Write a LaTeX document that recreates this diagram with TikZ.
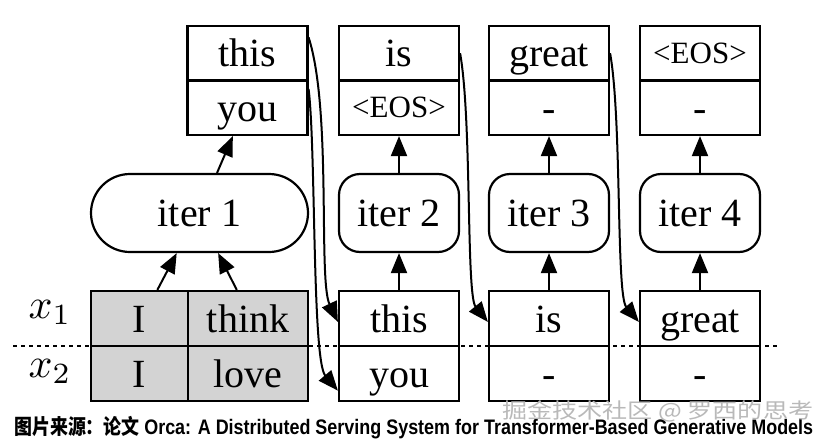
\documentclass[tikz,border=0pt]{standalone}
\usepackage{graphicx}
\usepackage{fontspec}
\setmainfont{Liberation Serif}
\newfontfamily\cjk{Noto Sans CJK SC}
\newfontfamily\arial{Liberation Sans}
\usetikzlibrary{arrows.meta,calc}
\definecolor{cellgray}{HTML}{D3D3D3}
\begin{document}
\begin{tikzpicture}[x=1pt,y=-1pt,
  cell/.style={draw, line width=2.2pt, fill=white, minimum width=120pt, minimum height=55pt, inner sep=0pt,
    font=\fontsize{40}{48}\selectfont, text height=36pt, text depth=9pt},
  topcell/.style={cell, minimum height=54.5pt},
  gcell/.style={cell, fill=cellgray},
  eos/.style={font=\fontsize{31}{36}\selectfont, text height=29pt, text depth=9pt},
  iterbox/.style={draw, line width=2.2pt, fill=white, minimum width=120pt, minimum height=78pt, inner sep=0pt,
    rounded corners=21pt, font=\fontsize{40}{48}\selectfont, text height=36pt, text depth=9pt},
  arr/.style={line width=2pt, -{Triangle[length=20pt,width=16pt]}},
  wm/.style={inner sep=0pt, anchor=base west}
]
\useasboundingbox (0,0) rectangle (828,442);

% dotted separator
\coordinate (dl) at (13,346);
\coordinate (dr) at (777,346);
\draw[line width=1.5pt, dash pattern=on 4pt off 4pt] (dl) -- (dr);

% top output boxes
\node[topcell] (t1a) at (247.5,53.25) {this};
\node[topcell] (t1b) at (247.5,107.75) {you};
\node[topcell] (t2a) at (399,53.25) {is};
\node[topcell, eos] (t2b) at (399,107.75) {\textless EOS\textgreater};
\node[topcell] (t3a) at (549,53.25) {great};
\node[topcell] (t3b) at (549,107.75) {-};
\node[topcell, eos] (t4a) at (700,53.25) {\textless EOS\textgreater};
\node[topcell] (t4b) at (700,107.75) {-};

% iteration boxes
\node[iterbox, minimum width=217pt, rounded corners=39pt] (i1) at (199.5,213) {iter 1};
\node[iterbox] (i2) at (399,213) {iter 2};
\node[iterbox] (i3) at (549,213) {iter 3};
\node[iterbox] (i4) at (700,213) {iter 4};

% bottom input boxes
\node[gcell, minimum width=97pt] (g1) at (139.5,318.5) {I};
\node[gcell] (g2) at (248,318.5) {think};
\node[gcell, minimum width=97pt] (g3) at (139.5,373.5) {I};
\node[gcell] (g4) at (248,373.5) {love};
\node[cell] (b1a) at (399,318.5) {this};
\node[cell] (b1b) at (399,373.5) {you};
\node[cell] (b2a) at (549,318.5) {is};
\node[cell] (b2b) at (549,373.5) {-};
\node[cell] (b3a) at (700,318.5) {great};
\node[cell] (b3b) at (700,373.5) {-};

% row labels
\node[inner sep=0pt, anchor=base] (x1) at (50,318) {\scalebox{4.2}{$x_1$}};
\node[inner sep=0pt, anchor=base] (x2) at (50,377) {\scalebox{4.2}{$x_2$}};

% straight arrows
\draw[arr] ($(g1.north west)!0.68!(g1.north east)$) -- ($(i1.south west)!0.396!(i1.south east)$);
\draw[arr] ($(g2.north west)!0.408!(g2.north east)$) -- ($(i1.south west)!0.585!(i1.south east)$);
\draw[arr] ($(i1.north west)!0.58!(i1.north east)$) -- ($(t1b.south west)!0.38!(t1b.south east)$);
\draw[arr] (b1a.north) -- (i2.south);
\draw[arr] (i2.north) -- (t2b.south);
\draw[arr] (b2a.north) -- (i3.south);
\draw[arr] (i3.north) -- (t3b.south);
\draw[arr] (b3a.north) -- (i4.south);
\draw[arr] (i4.north) -- (t4b.south);

% curved feedback arrows
\draw[arr] ($(t1a.north east)!0.22!(t1a.south east)$) .. controls (332,110) and (318,280) .. ($(b1a.north west)!0.56!(b1a.south west)$);
\draw[arr] ($(t1b.north east)!0.17!(t1b.south east)$) .. controls (316,150) and (312,360) .. ($(b1b.north west)!0.8!(b1b.south west)$);
\draw[arr] (t2a.east) .. controls (472,120) and (466,295) .. ($(b2a.north west)!0.56!(b2a.south west)$);
\draw[arr] (t3a.east) .. controls (622,120) and (616,295) .. ($(b3a.north west)!0.56!(b3a.south west)$);

% caption
\node[inner sep=0pt, anchor=base west] (cap) at (14,434) {\resizebox{799pt}{\height}{\fontsize{21}{25}\selectfont{\cjk\bfseries 图片来源：论文} {\arial\bfseries Orca: A Distributed Serving System for Transformer-Based Generative Models}}};

% watermark
\node[wm, text=gray!55] (wmk) at (502,418) {\resizebox{311pt}{\height}{\fontsize{21}{25}\selectfont\cjk 掘金技术社区 @ 罗西的思考}};
\end{tikzpicture}
\end{document}
